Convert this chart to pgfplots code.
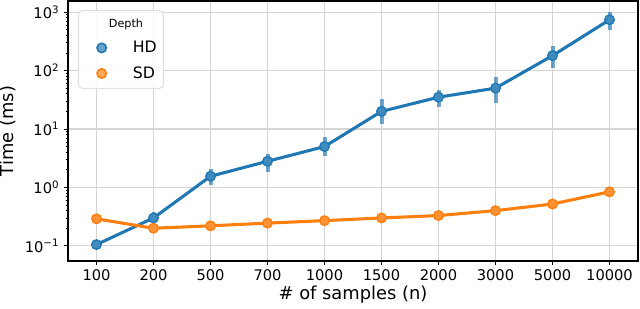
\documentclass[border=0pt]{standalone}
\usepackage{fontspec}
\setmainfont{DejaVu Sans}
\usepackage{pgfplots}
\pgfplotsset{compat=1.18}
\definecolor{tabblue}{HTML}{1F77B4}
\definecolor{taborange}{HTML}{FF7F0E}
\definecolor{gridgray}{HTML}{D5D5D5}
\begin{document}
\begin{tikzpicture}
\begin{axis}[
  scale only axis, width=427.5pt, height=195pt,
  ymode=log, ymin=0.055, ymax=1550,
  xmin=-0.5, xmax=9.5,
  xtick={0,...,9},
  xticklabels={100,200,500,700,1000,1500,2000,3000,5000,10000},
  ytick={0.1,1,10,100,1000},
  yticklabels={10\textsuperscript{−1},10\textsuperscript{0},10\textsuperscript{1},10\textsuperscript{2},10\textsuperscript{3}},
  grid=major, major grid style={gridgray, line width=0.9pt},
  tick align=outside, tick pos=left,
  major tick length=3pt, minor tick length=1.8pt,
  every tick/.style={black, line width=0.6pt},
  axis line style={black, line width=0.8pt},
  ticklabel style={font=\fontsize{11}{13}\selectfont},
  xlabel={\# of samples (n)}, ylabel={Time (ms)},
  label style={font=\fontsize{13.4}{15}\selectfont},
  xlabel style={at={(axis description cs:0.5,-0.1308)}, anchor=center},
  ylabel style={at={(axis description cs:-0.105,0.5)}, anchor=center},
  legend style={at={(rel axis cs:0.0175,0.965)}, anchor=north west,
    draw=black!12, line width=0.8pt, rounded corners=3pt,
    fill=white, fill opacity=0.85, text opacity=1,
    inner xsep=3pt, inner ysep=4pt, row sep=5pt,
    font=\fontsize{11.8}{13}\selectfont},
  legend cell align=left,
]
\coordinate (ll) at (rel axis cs:0,0);
\coordinate (ur) at (rel axis cs:1,1);

\addlegendimage{empty legend}
\addlegendentry{\hspace*{-18pt}\fontsize{8.4}{10}\selectfont Depth}
\addlegendimage{legend image code/.code={\path (-14pt,0pt) (21pt,0pt);
   \filldraw[fill=tabblue!80!white, draw=tabblue, line width=1.2pt] (0pt,0pt) circle[radius=3.5pt];}}
\addlegendentry{HD}
\addlegendimage{legend image code/.code={\path (-14pt,0pt) (21pt,0pt);
   \filldraw[fill=taborange!80!white, draw=taborange, line width=1.2pt] (0pt,0pt) circle[radius=3.5pt];}}
\addlegendentry{SD}

% HD
\addplot[tabblue, line width=2.3pt, mark=*, mark size=3.6pt,
  mark options={fill=tabblue!85!white, draw=tabblue, line width=1pt}, forget plot]
  table {
x y
0 0.105
1 0.30
2 1.55
3 2.8
4 5.0
5 20
6 35
7 50
8 180
9 740
};
% HD error bars
\addplot[tabblue, opacity=0.65, line width=3pt, unbounded coords=jump, forget plot]
  coordinates {
(0,0.095) (0,0.116) (0,nan)
(1,0.245) (1,0.38) (1,nan)
(2,1.12) (2,2.1) (2,nan)
(3,1.8) (3,3.8) (3,nan)
(4,3.4) (4,7.2) (4,nan)
(5,12) (5,32) (5,nan)
(6,24) (6,47) (6,nan)
(7,28) (7,79) (7,nan)
(8,112) (8,268) (8,nan)
(9,500) (9,1020)
};
% SD
\addplot[taborange, line width=2.3pt, mark=*, mark size=3.6pt,
  mark options={fill=taborange!85!white, draw=taborange, line width=1pt}, forget plot]
  table {
x y
0 0.29
1 0.20
2 0.22
3 0.245
4 0.27
5 0.30
6 0.33
7 0.40
8 0.52
9 0.84
};
\end{axis}
\pgfresetboundingbox
\path ([xshift=-51pt,yshift=-35.25pt]ll) rectangle ([xshift=1.5pt,yshift=0.75pt]ur);
\end{tikzpicture}
\end{document}
